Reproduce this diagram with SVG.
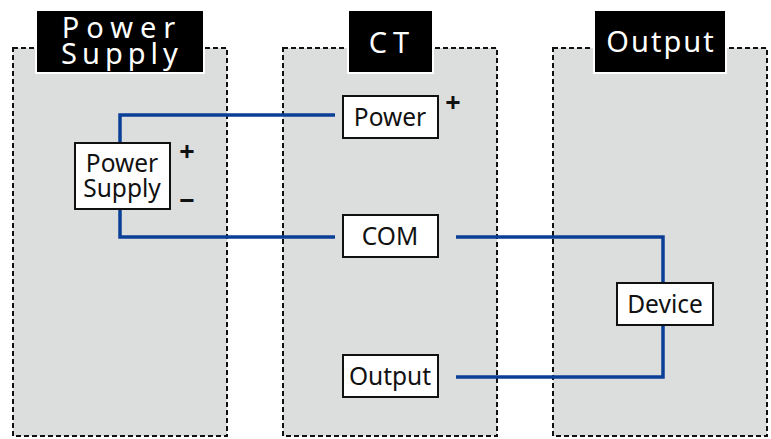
<svg xmlns="http://www.w3.org/2000/svg" width="771" height="439" viewBox="0 0 771 439">
<style>
.panel{fill:#dcdddd;stroke:#111;stroke-width:2;stroke-dasharray:5 3}
.title{fill:#000;stroke:#fff;stroke-width:2}
.tt{fill:#fff;font-family:"Noto Sans","DejaVu Sans",sans-serif;font-size:29px;text-anchor:middle}
.node{fill:#fff;stroke:#111;stroke-width:2}
.nt{fill:#111;font-family:"Noto Sans","DejaVu Sans",sans-serif;font-size:24.5px;text-anchor:middle}
.sign{fill:#111;font-family:"Noto Sans","DejaVu Sans",sans-serif;font-size:27px;font-weight:bold;text-anchor:middle}
.wire{fill:none;stroke:#0a3f96;stroke-width:3.5}
</style>
<rect width="771" height="439" fill="#fff"/>
<g id="panel-power-supply">
<rect class="panel" x="13" y="48" width="214" height="388"/>
<rect class="title" x="36" y="10" width="168" height="63"/>
<text class="tt"><tspan x="122" y="38" letter-spacing="7">Power</tspan><tspan x="122" y="64" letter-spacing="5">Supply</tspan></text>
</g>
<g id="panel-ct">
<rect class="panel" x="283" y="48" width="214" height="388"/>
<rect class="title" x="348" y="10" width="85" height="63"/>
<text class="tt" x="392" y="53" letter-spacing="6">CT</text>
</g>
<g id="panel-output">
<rect class="panel" x="553" y="48" width="214" height="388"/>
<rect class="title" x="594" y="10" width="132" height="63"/>
<text class="tt" x="661" y="52" letter-spacing="2">Output</text>
</g>
<g id="connectors">
<polyline class="wire" points="120,143 120,115 335,115"/>
<polyline class="wire" points="120,209 120,237 335,237"/>
<polyline class="wire" points="456,237 663,237 663,283"/>
<polyline class="wire" points="663,325 663,377 456,377"/>
</g>
<g id="node-ps">
<rect class="node" x="75" y="143" width="95" height="66"/>
<text class="nt"><tspan x="122" y="172">Power</tspan><tspan x="122" y="197">Supply</tspan></text>
<text class="sign" x="187" y="161">+</text>
<text class="sign" x="187" y="210">−</text>
</g>
<g id="node-ct-power">
<rect class="node" x="343" y="96" width="95" height="42"/>
<text class="nt" x="390" y="126">Power</text>
<text class="sign" x="453" y="112">+</text>
</g>
<g id="node-com">
<rect class="node" x="343" y="215" width="95" height="42"/>
<text class="nt" x="390" y="245">COM</text>
</g>
<g id="node-output">
<rect class="node" x="343" y="355" width="95" height="42"/>
<text class="nt" x="390" y="385">Output</text>
</g>
<g id="node-device">
<rect class="node" x="617" y="283" width="96" height="42"/>
<text class="nt" x="665" y="313">Device</text>
</g>
</svg>
